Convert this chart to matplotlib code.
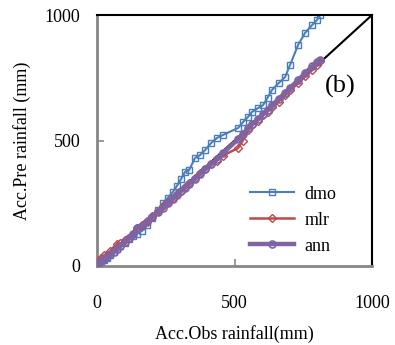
import matplotlib
matplotlib.use("Agg")
import matplotlib.pyplot as plt

obs = [0, 8, 15, 25, 35, 48, 60, 72, 85, 100, 115, 130, 145, 164, 180, 200, 220, 240, 258, 276,
       290, 305, 320, 335, 356, 375, 393, 415, 436, 458, 513, 530, 549, 564, 584, 604, 620, 636,
       660, 684, 702, 731, 756, 782, 800, 811]
dmo = [0, 7, 13, 22, 31, 43, 54, 66, 78, 92, 106, 118, 128, 140, 162, 192, 222, 251, 272, 295,
       318, 345, 375, 382, 430, 442, 462, 490, 510, 522, 550, 572, 594, 614, 628, 641, 670, 701,
       728, 753, 801, 880, 928, 960, 980, 1000]
mlr = [5, 25, 30, 42, 45, 58, 68, 88, 90, 102, 112, 128, 150, 162, 178, 200, 218, 240, 255, 272,
       286, 300, 315, 332, 352, 372, 385, 405, 420, 440, 470, 500, 540, 560, 578, 600, 615, 632,
       655, 680, 700, 728, 755, 780, 800, 815]
ann = [0, 10, 18, 28, 36, 46, 56, 68, 80, 95, 110, 128, 150, 160, 175, 195, 215, 232, 250, 268,
       282, 298, 312, 328, 348, 368, 385, 405, 425, 450, 505, 525, 548, 565, 585, 605, 620, 640,
       665, 690, 710, 740, 768, 795, 812, 821]
ticks = [0, 500, 1000]
series_names = ["dmo", "mlr", "ann"]

plt.rcParams['font.family'] = ['Liberation Serif', 'DejaVu Serif']

fig = plt.figure(figsize=(3.95, 3.45), dpi=100)
ax = fig.add_axes([0.2456, 0.229, 0.6962, 0.7275])

ax.plot([0, 1000], [0, 1000], color='black', lw=1.5, zorder=1)
ax.plot(obs, dmo, color='#4A7EBB', lw=1.5, marker='s', ms=4, mfc='none', mew=1.0,
        label=series_names[0], zorder=2)
ax.plot(obs, mlr, color='#BE4B48', lw=1.8, marker='D', ms=4, mfc='none', mew=1.0,
        label=series_names[1], zorder=3)
ax.plot(obs, ann, color='#7F63A2', lw=3.2, marker='o', ms=5, mfc='none', mew=1.2,
        label=series_names[2], zorder=4)

ax.set_xlim(0, 1000)
ax.set_ylim(0, 1000)
ax.set_xticks(ticks)
ax.set_yticks(ticks)
ax.tick_params(axis='both', direction='in', length=5, width=1.2, color='#868686',
               labelsize=13)
ax.tick_params(axis='x', pad=21)
ax.tick_params(axis='y', pad=12)

for s in ['left', 'bottom']:
    ax.spines[s].set_color('#868686')
    ax.spines[s].set_linewidth(2)
for s in ['top', 'right']:
    ax.spines[s].set_color('black')
    ax.spines[s].set_linewidth(1.5)

ax.set_xlabel('Acc.Obs rainfall(mm)', fontsize=13, labelpad=9)
ax.set_ylabel('Acc.Pre rainfall (mm)', fontsize=13, labelpad=10)

ax.text(0.885, 0.715, '(b)', transform=ax.transAxes, fontsize=19, ha='center', va='center')

leg = ax.legend(loc='lower right', bbox_to_anchor=(0.93, -0.02), frameon=False, fontsize=13,
                handlelength=2.4, labelspacing=0.5, handletextpad=0.6)

fig.savefig('out.png', dpi=100)
